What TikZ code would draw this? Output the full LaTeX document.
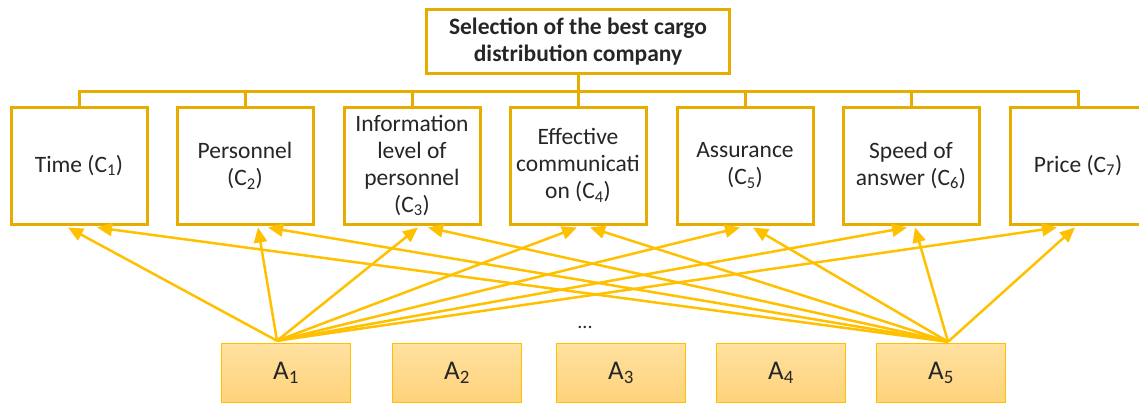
\documentclass[tikz,border=0pt]{standalone}
\usepackage{fontspec}
\setmainfont{Carlito}
\usetikzlibrary{arrows.meta}
\definecolor{frame}{HTML}{E6AC00}
\definecolor{gold}{HTML}{FFC000}
\definecolor{altA}{HTML}{FFE1A0}
\definecolor{altB}{HTML}{FFD27A}
\definecolor{ink}{HTML}{262626}
\begin{document}
\begin{tikzpicture}[x=1pt,y=-1pt,line join=miter,
  goal/.style={draw=frame,line width=3pt,minimum width=303pt,minimum height=64pt,inner sep=0pt,align=center,
    font=\fontsize{23.5}{27}\selectfont\bfseries,text=ink},
  crit/.style={draw=frame,line width=3pt,fill=white,minimum width=136pt,minimum height=117pt,inner sep=0pt,
    align=center,font=\fontsize{23.5}{27}\selectfont,text=ink},
  alt/.style={draw=gold,line width=1.5pt,top color=altA,bottom color=altB,minimum width=129pt,minimum height=59pt,
    inner sep=0pt,font=\fontsize{27}{30}\selectfont,text=ink},
  tree/.style={draw=frame,line width=3pt},
  rate/.style={draw=gold,line width=2.5pt,-{Triangle[length=15pt,width=13pt]}}
]
\useasboundingbox (0,0) rectangle (1139,405);

% goal
\node[goal] (goal) at (578,41.5) {Selection of the best cargo\\distribution company};

% criteria
\node[crit] (c1) at (79,165.5)   {Time (C\textsubscript{1})};
\node[crit] (c2) at (245,165.5)  {Personnel\\(C\textsubscript{2})};
\node[crit] (c3) at (412,165.5)  {Information\\level of\\personnel\\(C\textsubscript{3})};
\node[crit] (c4) at (578,165.5)  {Effective\\communicati\\on (C\textsubscript{4})};
\node[crit] (c5) at (745,165.5)  {Assurance\\(C\textsubscript{5})};
\node[crit] (c6) at (911,165.5)  {Speed of\\answer (C\textsubscript{6})};
\node[crit] (c7) at (1078,165.5) {Price (C\textsubscript{7})};

% hierarchy bar
\coordinate (bar) at (578,91);
\draw[tree] (goal.south) -- (bar);
\draw[tree] (c1.north) -- (c1.north |- bar) -- (c7.north |- bar) -- (c7.north);
\foreach \i in {2,...,6} \draw[tree] (c\i.north) -- (c\i.north |- bar);

% alternatives
\node[alt] (a1) at (286,373) {A\textsubscript{1}};
\node[alt] (a2) at (457,373) {A\textsubscript{2}};
\node[alt] (a3) at (621,373) {A\textsubscript{3}};
\node[alt] (a4) at (781,373) {A\textsubscript{4}};
\node[alt] (a5) at (941,373) {A\textsubscript{5}};
\node[font=\fontsize{20}{24}\selectfont,text=ink] (dots) at (585,327) {...};

% evaluation links
\coordinate (s1) at ([xshift=-9pt,yshift=2pt]a1.north);
\coordinate (s5) at ([xshift=7pt,yshift=1pt]a5.north);
\foreach \c/\d in {1/-11,2/13,3/6,4/-1,5/-5,6/-4,7/-21}
  \draw[rate] (s1) -- ([xshift=\d pt,yshift=-2pt]c\c.south);
\foreach \c/\d in {1/18,2/23,3/16,4/12,5/8,6/4,7/-3}
  \draw[rate] (s5) -- ([xshift=\d pt,yshift=-2pt]c\c.south);
\end{tikzpicture}
\end{document}
